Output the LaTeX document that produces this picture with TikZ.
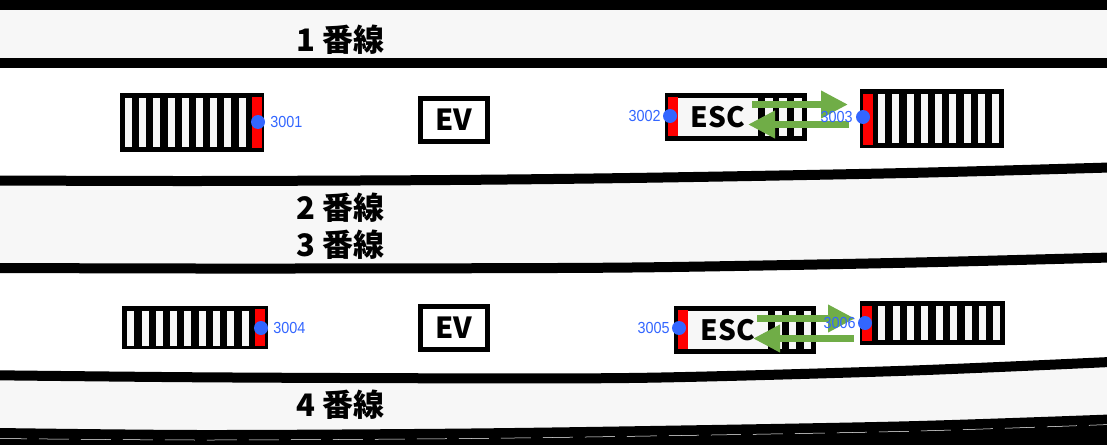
\documentclass[tikz,border=0pt]{standalone}
\usepackage{fontspec}
\setmainfont{Noto Sans CJK JP}
\newfontfamily\numfont[FakeStretch=0.9]{Liberation Sans}
\usetikzlibrary{positioning,arrows.meta}
\definecolor{platgray}{HTML}{F7F7F7}
\definecolor{dotblue}{HTML}{3366FF}
\definecolor{movegreen}{HTML}{70AD47}
\def\linetwo{(-3,180.5) (200,181) (450,180) (650,177.7) (907,173) (1110,167.5)}
\def\linethree{(-3,268) (200,268.5) (450,268.3) (650,267.3) (907,262.7) (1110,257.5)}
\def\linefour{(-3,375.3) (200,377.3) (450,378.3) (650,377.7) (907,370.7) (1110,362)}
\def\linefive{(-3,428) (200,430) (450,428.7) (650,426) (907,421.3) (1110,414.5)}
\def\lineslit{(-3,438.5) (200,440) (450,438.7) (650,436) (907,431.3) (1110,424.5)}
\begin{document}
\begin{tikzpicture}[x=1pt,y=-1pt,
        stairbox/.style={fill=black,rectangle,inner sep=0pt},
        tread/.style={fill=platgray},
        redband/.style={fill=red},
        evbox/.style={draw=black,line width=5pt,fill=white,rectangle,inner sep=0pt,
          minimum width=67pt,minimum height=43pt,font=\bfseries\fontsize{29}{29}\selectfont},
        escpanel/.style={fill=platgray,rectangle,inner sep=0pt,font=\bfseries\fontsize{28}{28}\selectfont},
        plat/.style={anchor=base west,inner sep=0pt,font=\bfseries\fontsize{31}{31}\selectfont},
        dot/.style={fill=dotblue,circle,inner sep=0pt,minimum size=14pt},
        numlabel/.style={inner sep=0pt,text=dotblue,font=\numfont\fontsize{16}{16}\selectfont},
        move/.style={draw=movegreen,line width=7pt,-{Triangle[length=27pt,width=26pt]}},
        railline/.style={line width=10pt,black}
      ]
      \useasboundingbox (0,0) rectangle (1107,444);
      % platforms and track edges
      \fill[white] (0,0) rectangle (1107,444);
      \fill[platgray] (0,10) rectangle (1107,58);
      \fill[platgray] plot[smooth] coordinates {\linetwo} -- (1110,444) -- (-3,444) -- cycle;
      \fill[white] plot[smooth] coordinates {\linethree} -- (1110,444) -- (-3,444) -- cycle;
      \fill[platgray] plot[smooth] coordinates {\linefour} -- (1110,444) -- (-3,444) -- cycle;
      \fill[black] plot[smooth] coordinates {\linefive} -- (1110,447) -- (-3,447) -- cycle;
      \fill[black] (0,0) rectangle (1107,10);
      \fill[black] (0,58) rectangle (1107,68);
      \draw[railline] plot[smooth] coordinates {\linetwo};
      \draw[railline] plot[smooth] coordinates {\linethree};
      \draw[railline] plot[smooth] coordinates {\linefour};
      \draw[white,line width=.5pt,dash pattern=on 30pt off 12pt] plot[smooth] coordinates {\lineslit};
      \node[plat] (track1) at (296,52) {1 番線};
      \node[plat] (track2) at (296,219) {2 番線};
      \node[plat] (track3) at (296,256) {3 番線};
      \node[plat] (track4) at (296,416) {4 番線};
      % stairs, upper platform
      \node[stairbox,minimum width=144pt,minimum height=59pt] (stair1) at (192,122.5) {};
      \foreach \x in {125,139,153,168,182,196,210,224,239}
        \fill[tread] (\x,98) rectangle +(7,49);
      \fill[redband] (252,97) rectangle (262,148);
      \node[evbox] (ev1) at (453.5,120) {EV};
      \node[stairbox,minimum width=142pt,minimum height=48pt] (esc1) at (736,117) {};
      \fill[redband] (668,97) rectangle (678,136);
      \foreach \x in {765,779,794}
        \fill[tread] (\x,98) rectangle +(8,38);
      \node[escpanel,minimum width=80pt,minimum height=38pt] (panel1) at (718,117) {ESC};
      \node[stairbox,minimum width=144pt,minimum height=59pt] (stair2) at (932,118.5) {};
      \foreach \x in {878,892,907,921,935,949,964,978,992}
        \fill[tread] (\x,94) rectangle +(7,49);
      \fill[redband] (863,94) rectangle (873,145);
      % stairs, lower platform
      \node[stairbox,minimum width=146pt,minimum height=43pt] (stair3) at (195,327.5) {};
      \foreach \x in {127,142,156,170,184,199,213,227,242}
        \fill[tread] (\x,311) rectangle +(7,35);
      \fill[redband] (255,309) rectangle (265,346);
      \node[evbox] (ev2) at (454,328) {EV};
      \node[stairbox,minimum width=142pt,minimum height=48pt] (esc2) at (745,330) {};
      \fill[redband] (678,310) rectangle (688,349);
      \foreach \x in {775,789,804}
        \fill[tread] (\x,311) rectangle +(7,38);
      \node[escpanel,minimum width=80pt,minimum height=38pt] (panel2) at (728,330) {ESC};
      \node[stairbox,minimum width=145pt,minimum height=44pt] (stair4) at (932.5,323) {};
      \foreach \x in {878,893,907,921,936,950,965,979,993}
        \fill[tread] (\x,306) rectangle +(7,34);
      \fill[redband] (862,306) rectangle (872,341);
      % moving directions
      \coordinate (up1a) at (752,104.5);
      \coordinate (up1b) at (848,104.5);
      \coordinate (down1a) at (849,124.5);
      \coordinate (down1b) at (748,124.5);
      \coordinate (up2a) at (757,318.5);
      \coordinate (up2b) at (855,318.5);
      \coordinate (down2a) at (854,338.5);
      \coordinate (down2b) at (753,338.5);
      \draw[move] (up1a) -- (up1b);
      \draw[move] (down1a) -- (down1b);
      \draw[move] (up2a) -- (up2b);
      \draw[move] (down2a) -- (down2b);
      % measuring points
      \node[dot] (d3001) at (258,122) {};
      \node[dot] (d3002) at (670,116) {};
      \node[dot] (d3003) at (863,117) {};
      \node[dot] (d3004) at (261,328) {};
      \node[dot] (d3005) at (679,328) {};
      \node[dot] (d3006) at (865,323) {};
      \node[numlabel,right=5pt of d3001] (n3001) {3001};
      \node[numlabel,left=2pt of d3002] (n3002) {3002};
      \node[numlabel,left=3pt of d3003] (n3003) {3003};
      \node[numlabel,right=5pt of d3004] (n3004) {3004};
      \node[numlabel,left=2pt of d3005] (n3005) {3005};
      \node[numlabel,left=2pt of d3006] (n3006) {3006};
\end{tikzpicture}
\end{document}
